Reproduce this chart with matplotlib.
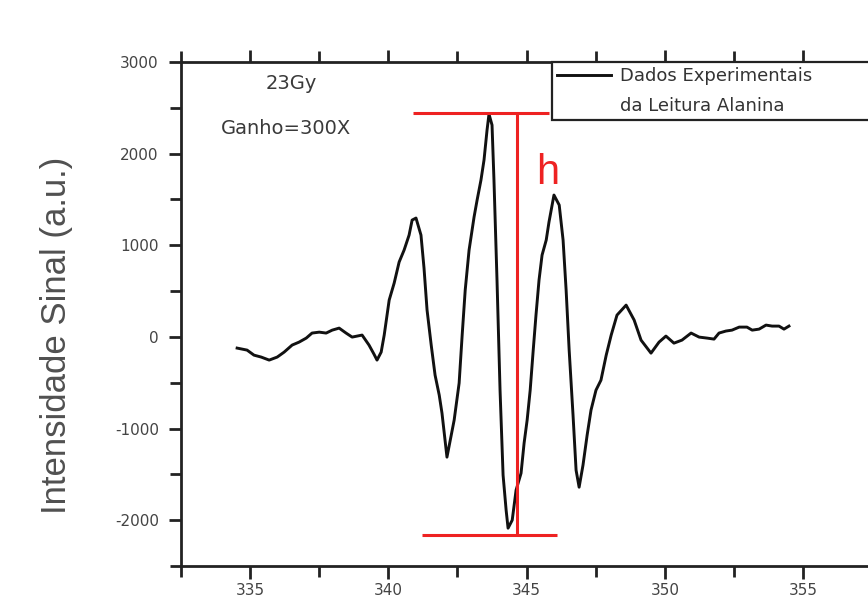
import numpy as np
import matplotlib
matplotlib.use("Agg")
import matplotlib.pyplot as plt
from matplotlib.lines import Line2D
from matplotlib.ticker import MultipleLocator

plt.rcParams["axes.unicode_minus"] = False

# leitura EPR da alanina
campo = [334.53, 334.89, 335.14, 335.40, 335.69, 335.98, 336.23, 336.52, 336.77, 337.03,
         337.24, 337.50, 337.75, 337.97, 338.22, 338.47, 338.69, 339.05, 339.30, 339.48,
         339.59, 339.74, 339.85, 340.03, 340.21, 340.39, 340.57, 340.75, 340.86, 341.00,
         341.18, 341.29, 341.40, 341.55, 341.69, 341.84, 341.94, 342.12, 342.38, 342.56,
         342.67, 342.78, 342.92, 343.10, 343.21, 343.35, 343.46, 343.57, 343.64, 343.75,
         343.82, 343.93, 344.04, 344.15, 344.26, 344.33, 344.48, 344.62, 344.80, 344.91,
         345.02, 345.13, 345.24, 345.34, 345.45, 345.56, 345.71, 345.81, 345.99, 346.18,
         346.32, 346.43, 346.54, 346.68, 346.79, 346.90, 347.04, 347.19, 347.33, 347.51,
         347.69, 347.88, 348.06, 348.27, 348.60, 348.89, 349.14, 349.50, 349.79, 350.04,
         350.33, 350.62, 350.95, 351.24, 351.53, 351.78, 351.96, 352.21, 352.43, 352.69,
         352.97, 353.16, 353.41, 353.66, 353.88, 354.13, 354.31, 354.49]
sinal = [-122, -144, -199, -220, -253, -220, -166, -89, -57, -13,
         42, 52, 42, 74, 96, 42, -2, 20, -89, -188,
         -253, -166, 20, 402, 587, 817, 948, 1111, 1275, 1297,
         1111, 751, 293, -89, -417, -635, -832, -1312, -908, -504,
         20, 511, 948, 1308, 1493, 1712, 1930, 2258, 2432, 2312,
         1712, 620, -581, -1509, -1891, -2087, -2000, -1672, -1487, -1159,
         -908, -581, -144, 238, 620, 893, 1057, 1253, 1548, 1439,
         1057, 511, -144, -854, -1454, -1640, -1400, -1072, -799, -581,
         -472, -199, 20, 238, 347, 184, -35, -177, -57, 9,
         -68, -35, 42, -2, -13, -24, 42, 64, 74, 107,
         107, 74, 85, 129, 118, 118, 85, 118]

# marcacao da altura pico-a-pico (h)
h_x = 344.65
h_topo = 2440
h_base = -2160
h_topo_lim = [340.9, 345.8]
h_base_lim = [341.2, 346.1]

fig = plt.figure(figsize=(8.68, 5.99), dpi=100)
ax = fig.add_axes([181/868, 33/599, 705/868, 504/599])

ax.plot(campo, sinal, color="#111111", lw=2.1, label="Dados Experimentais")

vermelho = "#ee2222"
ax.hlines(h_topo, h_topo_lim[0], h_topo_lim[1], color=vermelho, lw=2.2, zorder=3)
ax.hlines(h_base, h_base_lim[0], h_base_lim[1], color=vermelho, lw=2.2, zorder=3)
ax.vlines(h_x, h_base, h_topo, color=vermelho, lw=2.2, zorder=3)
ax.text(h_x + 0.7, 1790, "h", color=vermelho, fontsize=30, family="Liberation Sans",
        ha="left", va="center")

ax.set_xlim(332.5, 358)
ax.set_ylim(-2500, 3000)
ax.xaxis.set_major_locator(MultipleLocator(5))
ax.xaxis.set_minor_locator(MultipleLocator(2.5))
ax.yaxis.set_major_locator(MultipleLocator(1000))
ax.yaxis.set_minor_locator(MultipleLocator(500))

for s in ["left", "bottom", "top", "right"]:
    ax.spines[s].set_linewidth(2)
    ax.spines[s].set_color("#222222")

ax.tick_params(which="both", direction="out", width=2, color="#222222",
               top=True, labeltop=False, labelsize=11, labelcolor="#444444")
ax.tick_params(which="major", length=9, pad=7)
ax.tick_params(which="minor", length=8)
ax.tick_params(axis="x", which="major", pad=3)

ax.set_ylabel("Intensidade Sinal (a.u.)", fontsize=25, family="Liberation Sans",
              color="#505050", va="center")
ax.yaxis.set_label_coords(-0.176, 0.458)

ax.text(0.157, 0.958, "23Gy", transform=ax.transAxes, fontsize=14,
        color="#3a3a3a", ha="center", va="center")
ax.text(0.149, 0.869, "Ganho=300X", transform=ax.transAxes, fontsize=14,
        color="#3a3a3a", ha="center", va="center")

linha = ax.get_lines()[0]
vazio = Line2D([], [], color="none")
leg = ax.legend([linha, vazio], ["Dados Experimentais", "da Leitura Alanina"],
                loc="upper left", bbox_to_anchor=(0.526, 0.887, 0.55, 0.113),
                mode="expand", borderaxespad=0, fancybox=False, framealpha=1,
                edgecolor="#222222", fontsize=13, handlelength=3.0,
                handletextpad=0.5, labelspacing=0.62, borderpad=0.3)
leg.get_frame().set_linewidth(1.6)
for t in leg.get_texts():
    t.set_color("#333333")

fig.savefig("out.png", dpi=100)
